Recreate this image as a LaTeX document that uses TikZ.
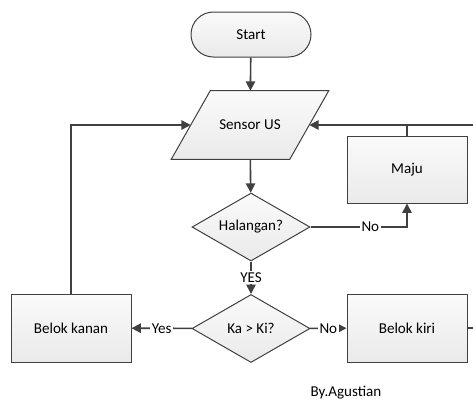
\documentclass[tikz,border=0pt]{standalone}
\usepackage{fontspec}
\setmainfont{Carlito}
\usetikzlibrary{shapes.geometric,arrows.meta,backgrounds}
\definecolor{ln}{RGB}{64,64,64}
\definecolor{bxtop}{RGB}{250,250,250}
\definecolor{bxbot}{RGB}{234,234,234}
\begin{document}
\begin{tikzpicture}[x=0.75pt,y=-0.75pt,
  font=\fontsize{11.3}{13}\selectfont,
  shp/.style={draw=ln, line width=0.75pt, top color=bxtop, bottom color=bxbot, text=black, inner sep=0pt},
  term/.style={shp, rectangle, rounded corners=16.8pt, minimum width=90pt, minimum height=33.75pt},
  iotext/.style={rectangle, inner sep=0pt, text=black, minimum width=88.5pt, minimum height=51pt},
  dec/.style={shp, diamond, aspect=1.735, minimum width=88.5pt, minimum height=51pt},
  proc/.style={shp, rectangle, minimum width=90pt, minimum height=51pt},
  con/.style={draw=ln, line width=1.2pt, -{Triangle[length=7pt,width=7pt]}},
  plain/.style={draw=ln, line width=1.2pt},
  lbl/.style={fill=white, inner sep=1pt, text=black}]
\clip (0,0) rectangle (473,401);
\node[term] (start) at (251,34.5) {Start};
\node[iotext] (sensor) at (250,125) {Sensor US};
\begin{pgfonlayer}{background}
\path[shp] ([xshift=-14.6pt]sensor.south west) -- ([xshift=14.6pt]sensor.north west)
  -- ([xshift=14.6pt]sensor.north east) -- ([xshift=-14.6pt]sensor.south east) -- cycle;
\end{pgfonlayer}
\node[dec] (hal) at (251,227) {Halangan?};
\node[proc, minimum height=50.25pt] (maju) at (407,169.5) {Maju};
\node[dec] (ka) at (251,328.5) {Ka > Ki?};
\node[proc] (kanan) at (71,328) {Belok kanan};
\node[proc] (kiri) at (407,328) {Belok kiri};
\node (by) at (346,393) {By.Agustian};
\coordinate (rc) at (490,328);
\coordinate (rt) at (490,125);
\draw[con] (start) -- (sensor);
\draw[con] (sensor) -- (hal);
\draw[con] (hal.east) -| node[lbl, pos=0.31] {No} (maju.south);
\draw[con] (hal) -- node[lbl] {YES} (ka);
\draw[con] (ka) -- node[lbl] {Yes} (kanan);
\draw[con] (ka) -- node[lbl] {No} (kiri);
\draw[con] (kanan.north) |- (sensor.west);
\draw[con] (kiri.east) -- (rc) -- (rt) -- (sensor.east);
\draw[plain] (maju.north) -- (maju.north |- sensor.east);
\end{tikzpicture}
\end{document}
